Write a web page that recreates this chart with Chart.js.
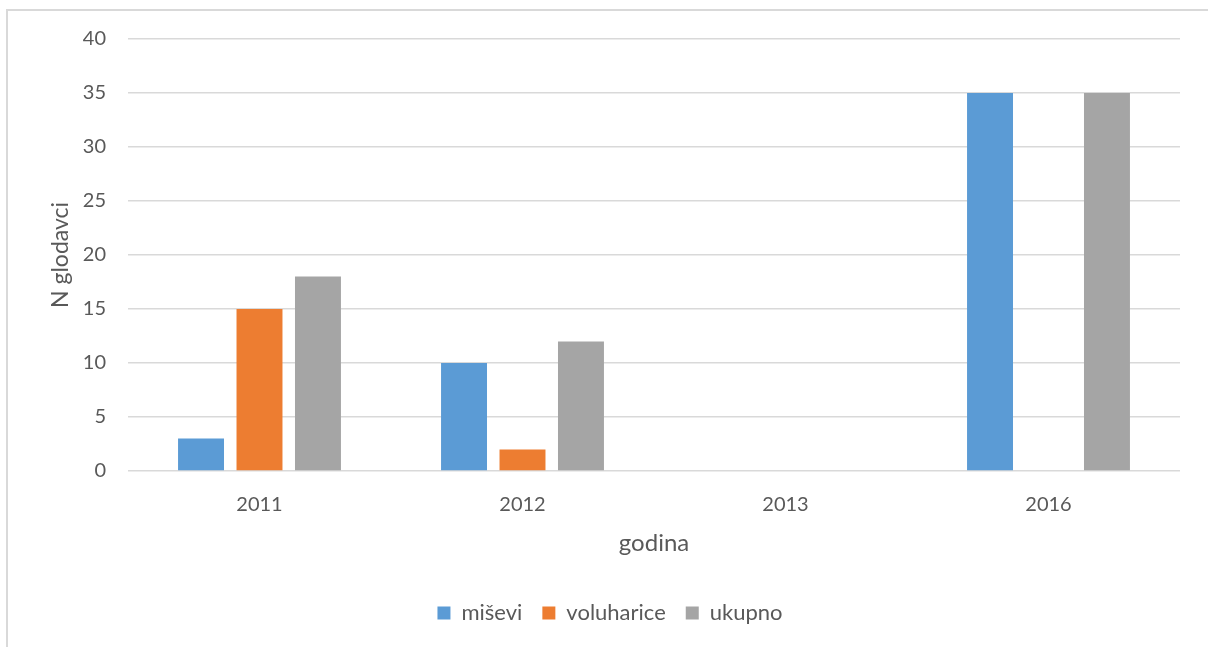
<!DOCTYPE html>
<html>
<head>
<meta charset="utf-8">
<script src="https://cdn.jsdelivr.net/npm/chart.js@4.4.0/dist/chart.umd.min.js"></script>
<style>
  html, body { margin: 0; padding: 0; background: #fff; overflow: hidden; }
  #frame { position: absolute; left: 6px; top: 9px; width: 1300px; height: 700px; border: 2px solid #d9d9d9; }
  #wrap { position: absolute; left: 0; top: 0; width: 1208px; height: 647px; }
</style>
</head>
<body>
<div id="frame"></div>
<div id="wrap"><canvas id="chart"></canvas></div>
<script>
const years = ['2011', '2012', '2013', '2016'];
const misevi = [3, 10, 0, 35];
const voluharice = [15, 2, 0, 0];
const ukupno = [18, 12, 0, 35];
const yTicks = [0, 5, 10, 15, 20, 25, 30, 35, 40];

const textColor = '#595959';
const gridColor = '#d9d9d9';
const fontFamily = 'Lato, "Open Sans", sans-serif';

function bar(label, data, color) {
    return {
        label: label,
        data: data,
        backgroundColor: color,
        borderWidth: 0,
        categoryPercentage: 0.667,
        barPercentage: 0.786
    };
}

new Chart(document.getElementById('chart'), {
    type: 'bar',
    data: {
        labels: years,
        datasets: [
            bar('miševi', misevi, '#5b9bd5'),
            bar('voluharice', voluharice, '#ed7d31'),
            bar('ukupno', ukupno, '#a5a5a5')
        ]
    },
    options: {
        responsive: true,
        maintainAspectRatio: false,
        animation: false,
        // left padding keeps the legend centred like the original
        layout: { padding: { top: 39, right: 28, left: 40, bottom: 13 } },
        scales: {
            x: {
                grid: { display: false, drawTicks: false },
                border: { display: false },
                ticks: { color: textColor, font: { family: fontFamily, size: 20 }, padding: 22 },
                title: {
                    display: true, text: 'godina', color: textColor,
                    font: { family: fontFamily, size: 24 },
                    padding: { top: 20, bottom: 24 }
                },
                afterFit: function (s) { s.height = 111; }
            },
            y: {
                min: 0,
                max: 40,
                afterBuildTicks: function (s) { s.ticks = yTicks.map(v => ({ value: v })); },
                grid: { color: gridColor, lineWidth: 1.5, drawTicks: false },
                border: { display: false },
                ticks: { color: textColor, font: { family: fontFamily, size: 20 }, padding: 22 },
                title: {
                    display: true, text: 'N glodavci', color: textColor,
                    font: { family: fontFamily, size: 23 },
                    padding: { top: 7, bottom: 0 }
                },
                afterFit: function (s) { s.width = 88; }
            }
        },
        plugins: {
            legend: {
                position: 'bottom',
                labels: {
                    color: textColor,
                    font: { family: fontFamily, size: 22 },
                    boxWidth: 13,
                    boxHeight: 13,
                    padding: 20
                }
            },
            tooltip: { enabled: false }
        }
    }
});
</script>
</body>
</html>
